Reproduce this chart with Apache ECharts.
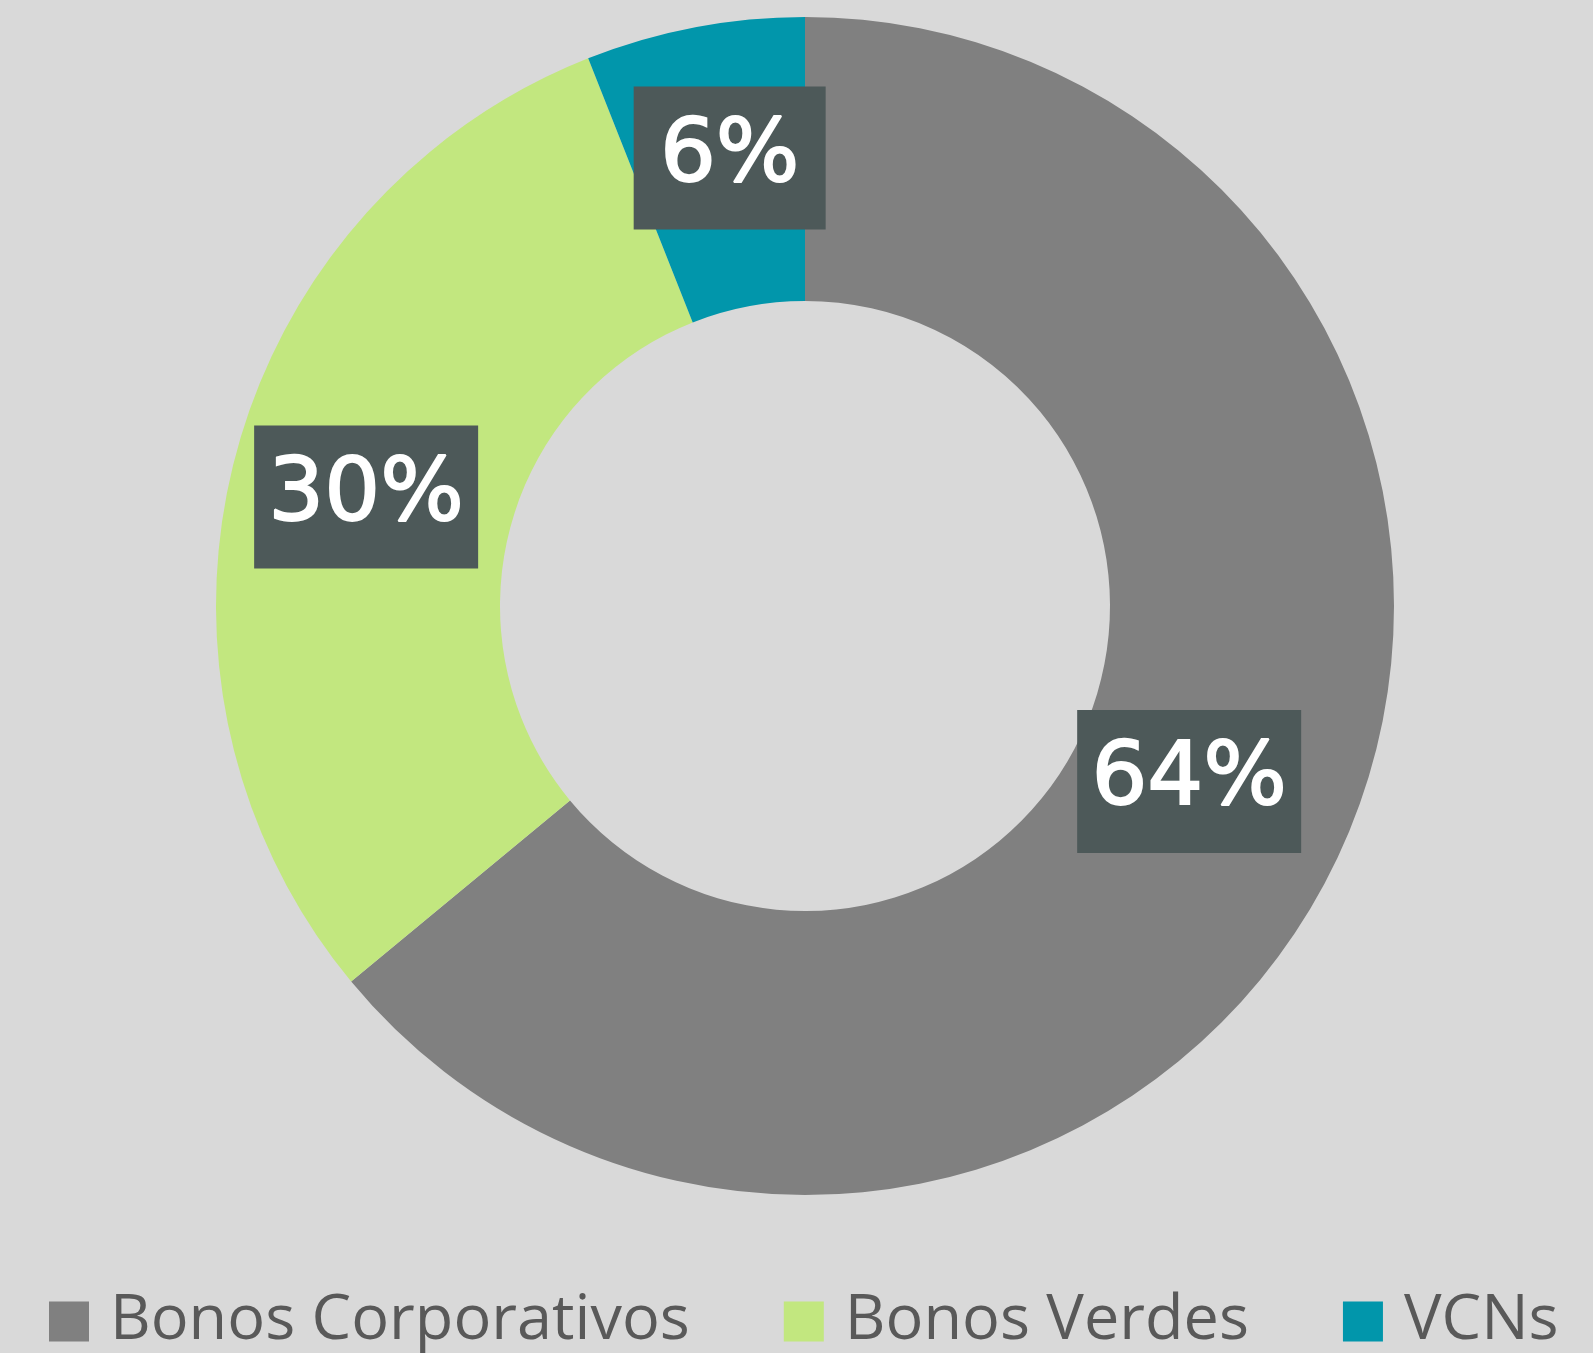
<!DOCTYPE html>
<html>
<head>
<meta charset="utf-8">
<script src="https://cdn.jsdelivr.net/npm/echarts@6/dist/echarts.min.js"></script>
<style>
    html, body {margin: 0; padding: 0; background: #d9d9d9;}
    #mixChart {width: 1593px; height: 1353px;}
</style>
</head>
<body>
<div id="mixChart"></div>
<script>
    var categories = ['Bonos Corporativos', 'Bonos Verdes', 'VCNs'];
    var shares = [64, 30, 6];
    var sliceColors = ['#808080', '#c2e77f', '#0196ab'];

    // cajas de etiqueta: ancho y desplazamiento por porcion
    var labelBoxes = [
        {width: 224, offset: [-23, -16]},
        {width: 224, offset: [-3, 3]},
        {width: 192, offset: [9, -6]}
    ];

    var pieData = categories.map(function (name, i) {
        return {
            name: name,
            value: shares[i],
            itemStyle: {color: sliceColors[i]},
            label: {width: labelBoxes[i].width, offset: labelBoxes[i].offset}
        };
    });

    var mixChartOption = {
        backgroundColor: '#d9d9d9',
        animation: false,
        legend: {
            left: 44,
            top: 1285,
            icon: 'rect',
            itemWidth: 40,
            itemHeight: 40,
            itemGap: 94,
            data: categories,
            textStyle: {
                color: '#595959',
                fontFamily: 'Open Sans',
                fontSize: 63,
                padding: [0, 0, 0, 16]
            }
        },
        series: [
            {
                name: 'Cartera',
                type: 'pie',
                center: [805, 606],
                radius: [305, 589],
                startAngle: 90,
                clockwise: true,
                avoidLabelOverlap: false,
                labelLine: {show: false},
                label: {
                    show: true,
                    position: 'inside',
                    formatter: '{c}%',
                    color: '#ffffff',
                    fontFamily: 'DejaVu Sans',
                    fontSize: 88,
                    textBorderColor: '#ffffff',
                    textBorderWidth: 2,
                    lineHeight: 89,
                    padding: [34, 0, 20, 0],
                    align: 'center',
                    verticalAlign: 'middle',
                    backgroundColor: '#4d5959'
                },
                data: pieData
            }
        ]
    };

    var mixChart = echarts.init(document.getElementById('mixChart'));
    mixChart.setOption(mixChartOption);
</script>
</body>
</html>
